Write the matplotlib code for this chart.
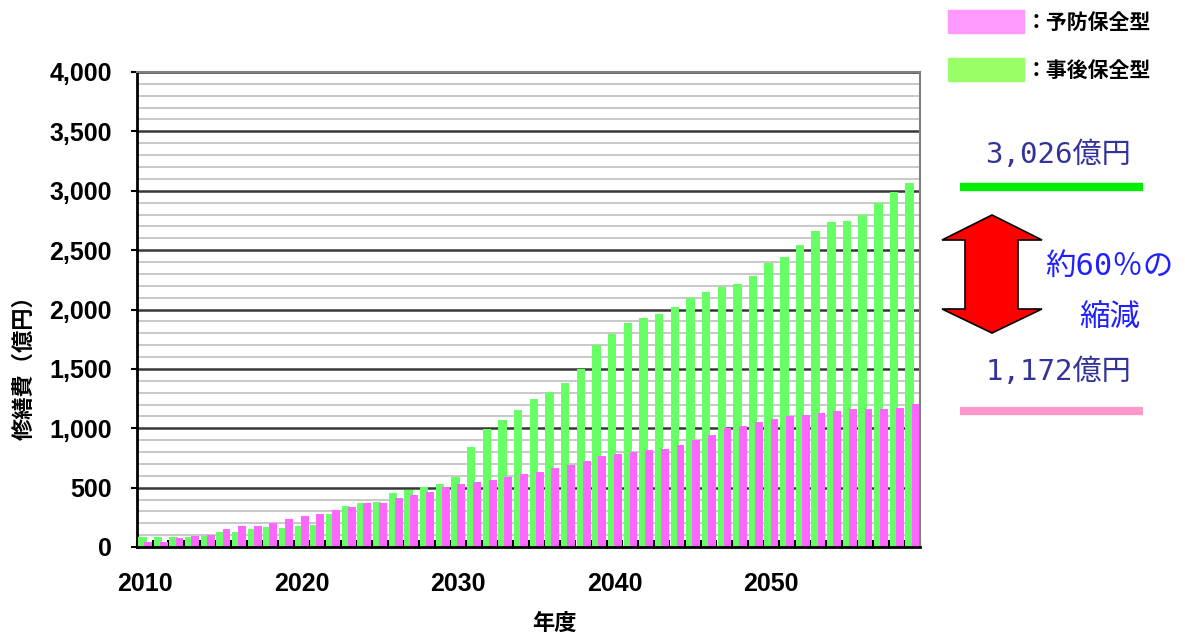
import matplotlib
matplotlib.use("Agg")
import matplotlib.pyplot as plt
from matplotlib.patches import Polygon, Rectangle
from matplotlib.ticker import FuncFormatter
import numpy as np

plt.rcParams['font.family'] = ['Liberation Sans', 'Noto Sans CJK JP']

years = list(range(2010, 2060))

# 事後保全型 (green)
jigo = [87, 87, 87, 87, 92, 129, 129, 152, 166, 160,
        177, 185, 280, 346, 368, 382, 452, 480, 503, 530,
        587, 845, 991, 1069, 1154, 1244, 1302, 1378, 1496, 1701,
        1794, 1884, 1926, 1959, 2018, 2094, 2150, 2187, 2215, 2286,
        2394, 2439, 2543, 2664, 2735, 2748, 2796, 2900, 2988, 3062]

# 予防保全型 (pink)
yobo = [45, 45, 73, 90, 105, 148, 177, 177, 205, 237,
        265, 280, 312, 340, 368, 368, 410, 438, 466, 505,
        530, 545, 564, 587, 615, 634, 665, 693, 725, 767,
        786, 803, 817, 828, 859, 901, 943, 999, 1023, 1055,
        1075, 1103, 1112, 1126, 1145, 1160, 1160, 1160, 1173, 1204]

legend_labels = ['：予防保全型', '：事後保全型']
total_jigo = '3,026億円'
total_yobo = '1,172億円'
reduction = ['約60％の', '縮減']

W, H = 1185, 636
fig = plt.figure(figsize=(W / 100, H / 100), dpi=100)
ax = fig.add_axes([137 / W, 1 - 547 / H, (920 - 137) / W, (547 - 72) / H])

x = np.arange(len(years))
ax.bar(x - 0.16, jigo, width=0.54, color='#66ff66', zorder=3)
ax.bar(x + 0.21, yobo, width=0.5, color='#ff66ff', zorder=4)

ax.set_xlim(-0.5, len(years) - 0.5)
ax.set_ylim(0, 4000)

# grid: minor every 100, major every 500
ax.set_yticks(np.arange(0, 4001, 500))
ax.set_yticks(np.arange(0, 4001, 100), minor=True)
ax.yaxis.grid(True, which='minor', color='#c8c8c8', lw=1.4, zorder=0)
ax.yaxis.grid(True, which='major', color='#383838', lw=1.8, zorder=1)
ax.yaxis.set_major_formatter(FuncFormatter(lambda v, p: f'{int(v):,}'))
ax.tick_params(axis='y', which='major', length=4, width=1.5, labelsize=18, pad=14)
ax.tick_params(axis='y', which='minor', length=0)

ax.set_xticks(x[::10])
ax.set_xticklabels([str(y) for y in years[::10]])
ax.set_xticks(np.arange(-0.5, len(years), 1), minor=True)
ax.tick_params(axis='x', which='major', length=0, labelsize=18, pad=18)
ax.tick_params(axis='x', which='minor', direction='in', length=5, width=1.5)

for lab in ax.get_xticklabels() + ax.get_yticklabels():
    lab.set_fontweight('bold')

ax.spines['left'].set_color('black')
ax.spines['left'].set_linewidth(2)
ax.spines['bottom'].set_color('black')
ax.spines['bottom'].set_linewidth(2)
ax.spines['bottom'].set_zorder(6)
for s in ['top', 'right']:
    ax.spines[s].set_color('#808080')
    ax.spines[s].set_linewidth(1.5)

fig.text(25 / W, 1 - 362 / H, '修繕費（億円）', fontsize=16, fontweight='bold',
         rotation=90, ha='center', va='center')
fig.text(554 / W, 1 - 624 / H, '年度', fontsize=16, fontweight='bold',
         ha='center', va='center')

# overlay in pixel coords for legend and annotations
ov = fig.add_axes([0, 0, 1, 1])
ov.set_xlim(0, W)
ov.set_ylim(H, 0)
ov.axis('off')

legend_colors = ['#ff99ff', '#99ff66']
for i, (lab, col) in enumerate(zip(legend_labels, legend_colors)):
    y0 = 10 + i * 48
    ov.add_patch(Rectangle((948, y0), 76, 23, color=col))
    ov.text(1026, y0 + 12, lab, fontsize=15, fontweight='bold',
            family=['Noto Sans CJK JP'], va='center', ha='left')

num_font = ['DejaVu Sans Mono', 'Noto Sans CJK JP']
ov.text(1058, 155, total_jigo, fontsize=21, color='#333399',
        family=num_font, ha='center', va='center')
ov.plot([960, 1143], [187, 187], color='#00ee00', lw=6, solid_capstyle='butt')

ov.text(1058, 372, total_yobo, fontsize=21, color='#333399',
        family=num_font, ha='center', va='center')
ov.plot([960, 1143], [411, 411], color='#ff99cc', lw=6, solid_capstyle='butt')

arrow = [(992, 215), (1042, 240), (1018, 240), (1018, 309), (1042, 309),
         (992, 333), (942, 309), (965, 309), (965, 240), (942, 240)]
ov.add_patch(Polygon(arrow, closed=True, facecolor='#ff0000',
                     edgecolor='black', lw=1.2))

ov.text(1109, 266, reduction[0], fontsize=22, color='#2020ff',
        family=num_font, ha='center', va='center')
ov.text(1110, 318, reduction[1], fontsize=22, color='#2020ff',
        family=num_font, ha='center', va='center')

fig.savefig('out.png', dpi=100)
plt.close(fig)
